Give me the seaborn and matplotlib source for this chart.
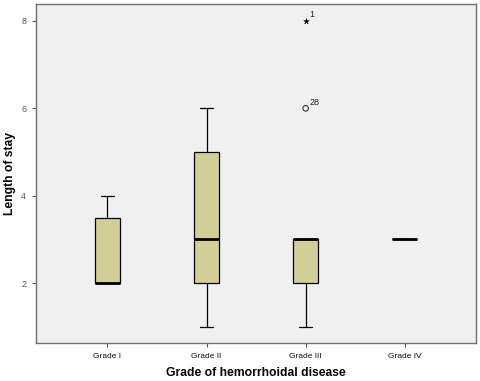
import numpy as np
import pandas as pd
import matplotlib.pyplot as plt
import seaborn as sns

# Length of stay per grade of hemorrhoidal disease
grades = ["Grade I", "Grade II", "Grade III", "Grade IV"]
grade_1 = [2, 2, 2, 2, 3, 4, 4]
grade_2 = [1, 2, 2, 3, 3, 5, 5, 6]
grade_3 = [8, 1, 2, 2, 2, 3, 3, 3, 3, 3, 6]
grade_4 = [3, 3]

# SPSS case numbers shown next to outliers
outlier_cases = {8: "1", 6: "28"}

y_ticks = [2, 4, 6, 8]

rows = []
for g, vals in zip(grades, [grade_1, grade_2, grade_3, grade_4]):
    for v in vals:
        rows.append({"grade": g, "stay": v})
df = pd.DataFrame(rows)

sns.set_style("white")
plt.rcParams['font.family'] = ['Liberation Sans', 'DejaVu Sans']

fig = plt.figure(figsize=(4.8, 3.81), dpi=100)
ax = fig.add_axes([0.075, 0.0997, 0.917, 0.89])
ax.set_facecolor("#f0f0f0")

sns.boxplot(data=df, x="grade", y="stay", order=grades, ax=ax,
            color="#d3ce97", saturation=1, width=0.25, showfliers=False,
            linecolor="black", linewidth=0.9,
            medianprops=dict(linewidth=2, color="black"))

# outliers: circle beyond 1.5 IQR, star beyond 3 IQR
for i, g in enumerate(grades):
    vals = np.array(df.loc[df["grade"] == g, "stay"])
    q1, q3 = np.percentile(vals, [25, 75])
    iqr = q3 - q1
    for v in vals:
        if v > q3 + 1.5 * iqr or v < q1 - 1.5 * iqr:
            if v > q3 + 3 * iqr or v < q1 - 3 * iqr:
                ax.scatter(i, v, marker="*", s=18, color="black", linewidths=0.3, zorder=5)
            else:
                ax.scatter(i, v, marker="o", s=16, facecolors="none",
                           edgecolors="#333333", linewidths=0.8, zorder=5)
            ax.annotate(outlier_cases.get(v, ""), (i, v), xytext=(2.5, 2.5),
                        textcoords="offset points", fontsize=6.5, color="#222222")

ax.set_xlim(-0.72, 3.72)
ax.set_ylim(0.63, 8.39)
ax.set_yticks(y_ticks)
ax.set_yticklabels([str(t) for t in y_ticks], fontsize=6.5, color="#555555")
ax.set_xticks(range(len(grades)))
ax.set_xticklabels(grades, fontsize=6, color="#111111")
ax.tick_params(axis="both", direction="out", length=3, width=0.8, color="#555555",
               bottom=True, left=True, pad=4)

for s in ax.spines.values():
    s.set_color("#707070")
    s.set_linewidth(1)

ax.set_xlabel("Grade of hemorrhoidal disease", fontsize=8.7, fontweight="bold",
              labelpad=5, color="black")
ax.set_ylabel("Length of stay", fontsize=8.7, fontweight="bold", labelpad=4, color="black")

fig.savefig("out.png", dpi=100)
